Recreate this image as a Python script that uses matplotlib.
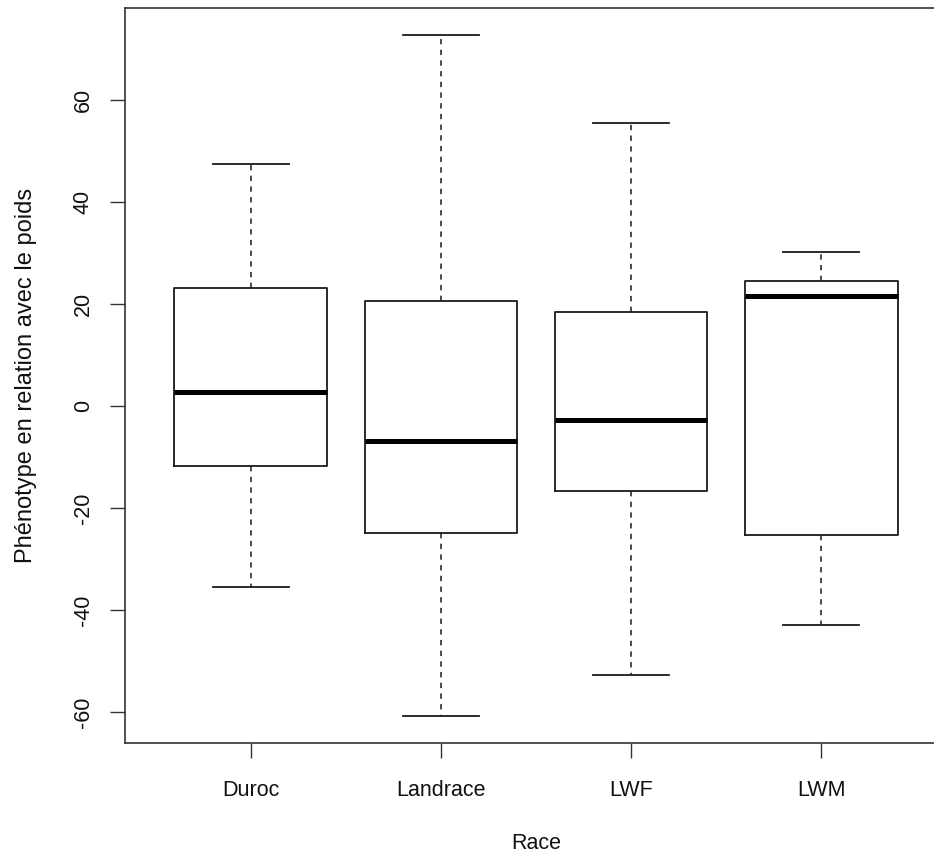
import matplotlib
matplotlib.use("Agg")
import matplotlib.pyplot as plt

plt.rcParams['font.family'] = ['Liberation Sans', 'DejaVu Sans']

races = ["Duroc", "Landrace", "LWF", "LWM"]
whisker_low = [-35.4, -60.7, -52.7, -42.9]
q1 = [-11.7, -24.9, -16.6, -25.3]
median = [2.7, -6.9, -2.7, 21.5]
q3 = [23.1, 20.6, 18.4, 24.5]
whisker_high = [47.4, 72.6, 55.4, 30.1]
yticks = [-60, -40, -20, 0, 20, 40, 60]

stats = []
for name, lo, a, m, b, hi in zip(races, whisker_low, q1, median, q3, whisker_high):
    stats.append(dict(label=name, whislo=lo, q1=a, med=m, q3=b, whishi=hi, fliers=[]))

W, H = 934, 855
fig = plt.figure(figsize=(W / 100, H / 100), dpi=100)
left, right, top, bottom = 125, 947, 8, 743
ax = fig.add_axes([left / W, 1 - bottom / H, (right - left) / W, (bottom - top) / H])

lc = '#1a1a1a'
ax.bxp(stats, positions=[1, 2, 3, 4], widths=0.8, showfliers=False,
       boxprops=dict(color=lc, linewidth=1.3),
       whiskerprops=dict(color=lc, linewidth=1.1, linestyle=(0, (3.5, 3.5))),
       capprops=dict(color=lc, linewidth=1.3),
       medianprops=dict(color='black', linewidth=3.6, solid_capstyle='butt'),
       capwidths=0.4)

ymin = min(whisker_low)
ymax = max(whisker_high)
pad = 0.04 * (ymax - ymin)
ax.set_ylim(ymin - pad, ymax + pad)
ax.set_xlim(0.34, 4.66)

ax.set_yticks(yticks)
ax.set_yticklabels([str(v) for v in yticks], rotation=90, va='center')
ax.set_xticks([1, 2, 3, 4])
ax.set_xticklabels(races)

for s in ax.spines.values():
    s.set_color('#333333')
    s.set_linewidth(1.2)

ax.tick_params(axis='both', direction='out', length=10.5, width=1.0, color='#333333',
               labelsize=15.5, labelcolor='#111111')
ax.tick_params(axis='y', pad=12)
ax.tick_params(axis='x', pad=16)

ax.set_xlabel("Race", fontsize=15.5, color='#111111', labelpad=23)
ax.set_ylabel("Phénotype en relation avec le poids", fontsize=17, color='#111111', labelpad=26)

fig.savefig("out.png", dpi=100)
